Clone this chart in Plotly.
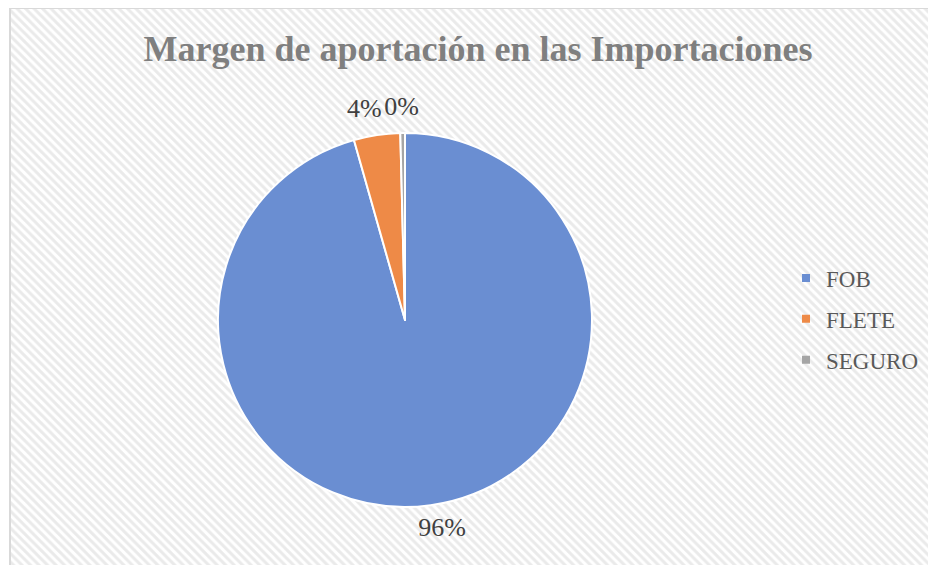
import math
import plotly.graph_objects as go

categories = ["FOB", "FLETE", "SEGURO"]
values = [95.6, 4.0, 0.4]
colors = ["#6A8ED2", "#EE8A47", "#A5A5A5"]
title_text = "Margen de aportación en las Importaciones"

W, H = 936, 565
# the page body adds an 8px offset; positions below are in figure pixels
cx, cy, r = 397, 312, 187
label_rx, label_ry = 270, 212


def px(x):
    return x / W


def py(y):
    return 1 - y / H


fig = go.Figure()

# hatched chart-area background
x0 = px(2)
y1 = py(0)
fig.add_trace(go.Scatter(
    x=[x0, 1.01, 1.01, x0, x0], y=[-0.01, -0.01, y1, y1, -0.01],
    mode="lines", fill="toself",
    line=dict(color="#d9d9d9", width=2),
    fillcolor="white",
    fillpattern=dict(shape="\\", fgcolor="#d6d6d6", bgcolor="white", size=6, solidity=0.5),
    hoverinfo="skip", showlegend=False,
))

fig.add_trace(go.Pie(
    labels=categories, values=values,
    sort=False, direction="clockwise", rotation=0,
    marker=dict(colors=colors, line=dict(color="white", width=2)),
    textinfo="none",
    domain=dict(x=[px(cx - r), px(cx + r)], y=[py(cy + r), py(cy - r)]),
    showlegend=False,
    hoverinfo="label+percent",
))

# data labels placed outside each slice, along its mid-angle
total = sum(values)
lx, ly, lt = [], [], []
cum = 0.0
for v in values:
    mid = (cum + v / 2) / total * 2 * math.pi
    cum += v
    lx.append(px(cx + label_rx * math.sin(mid)))
    ly.append(py(cy - label_ry * math.cos(mid)))
    lt.append(f"{round(v / total * 100):.0f}%")
fig.add_trace(go.Scatter(
    x=lx, y=ly, text=lt, mode="text",
    textposition="middle center",
    textfont=dict(family="Liberation Serif", size=26, color="#404040"),
    hoverinfo="skip", showlegend=False,
))

# legend proxies
for c, col in zip(categories, colors):
    fig.add_trace(go.Scatter(
        x=[None], y=[None], mode="markers", name=c,
        marker=dict(symbol="square", size=8, color=col),
        legendgroup=c, showlegend=True,
    ))

fig.update_layout(
    width=W, height=H,
    margin=dict(l=0, r=0, t=0, b=0),
    paper_bgcolor="white", plot_bgcolor="rgba(0,0,0,0)",
    xaxis=dict(visible=False, range=[0, 1], domain=[0, 1], fixedrange=True),
    yaxis=dict(visible=False, range=[0, 1], domain=[0, 1], fixedrange=True),
    title=dict(text="<b>" + title_text + "</b>", x=px(470), xanchor="center",
               y=py(40), yanchor="middle",
               font=dict(family="Liberation Serif", size=36, color="#7F7F7F")),
    legend=dict(x=px(778), xanchor="left", y=py(311), yanchor="middle",
                font=dict(family="Liberation Serif", size=23, color="#595959"),
                tracegroupgap=8, bgcolor="rgba(0,0,0,0)", itemwidth=30),
    showlegend=True,
)

fig.write_html("out.html")
